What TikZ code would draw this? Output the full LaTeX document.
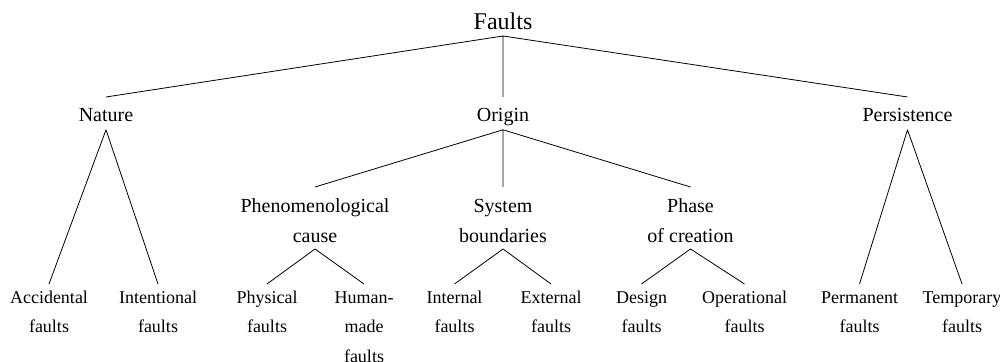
\documentclass[tikz,border=0pt]{standalone}
\usepackage{fontspec}
\setmainfont{Liberation Serif}

\begin{document}
\begin{tikzpicture}[x=0.5pt, y=-0.5pt,
    top/.style={font=\fontsize{12}{14}\selectfont, anchor=south,
      inner xsep=0pt, inner ysep=3pt},
    cat/.style={font=\fontsize{10}{12}\selectfont, anchor=north,
      inner xsep=0pt, inner ysep=1.5pt, text height=10.5pt, text depth=2.5pt},
    sub/.style={font=\fontsize{10}{15}\selectfont, anchor=north, align=center,
      inner xsep=0pt, inner ysep=3.15pt, text height=24.2pt},
    leaf/.style={font=\fontsize{9}{14.7}\selectfont, anchor=north, align=center,
      inner xsep=0pt, inner ysep=3pt, text height=21.2pt}]

  \useasboundingbox (0,0) rectangle (1000,362);

  \node[top] (F) at (503,36) {Faults};

  \node[cat] (Nat) at (106,97) {Nature};
  \node[cat] (Ori) at (503,97) {Origin};
  \node[cat] (Per) at (907.5,97) {Persistence};

  \node[sub] (Phe) at (315,187) {Phenomenological\\cause};
  \node[sub] (Sys) at (503,187) {System\\boundaries};
  \node[sub] (Pha) at (690.5,187) {Phase\\of creation};

  \node[leaf] (Acc) at (49,284) {Accidental\\faults};
  \node[leaf] (Int) at (158,284) {Intentional\\faults};
  \node[leaf] (Phy) at (267,284) {Physical\\faults};
  \node[leaf, text height=35.9pt] (Hum) at (364,284) {Human-\\made\\faults};
  \node[leaf] (Inl) at (454.5,284) {Internal\\faults};
  \node[leaf] (Ext) at (551,284) {External\\faults};
  \node[leaf] (Des) at (641.5,284) {Design\\faults};
  \node[leaf] (Ope) at (744.5,284) {Operational\\faults};
  \node[leaf] (Perm) at (859.5,284) {Permanent\\faults};
  \node[leaf] (Tem) at (962,284) {Temporary\\faults};

  \draw (F.south) -- (Nat.north) (F.south) -- (Ori.north) (F.south) -- (Per.north);
  \draw (Nat.south) -- (Acc.north) (Nat.south) -- (Int.north);
  \draw (Ori.south) -- (Phe.north) (Ori.south) -- (Sys.north) (Ori.south) -- (Pha.north);
  \draw (Per.south) -- (Perm.north) (Per.south) -- (Tem.north);
  \draw (Phe.south) -- (Phy.north) (Phe.south) -- (Hum.north);
  \draw (Sys.south) -- (Inl.north) (Sys.south) -- (Ext.north);
  \draw (Pha.south) -- (Des.north) (Pha.south) -- (Ope.north);
\end{tikzpicture}
\end{document}
